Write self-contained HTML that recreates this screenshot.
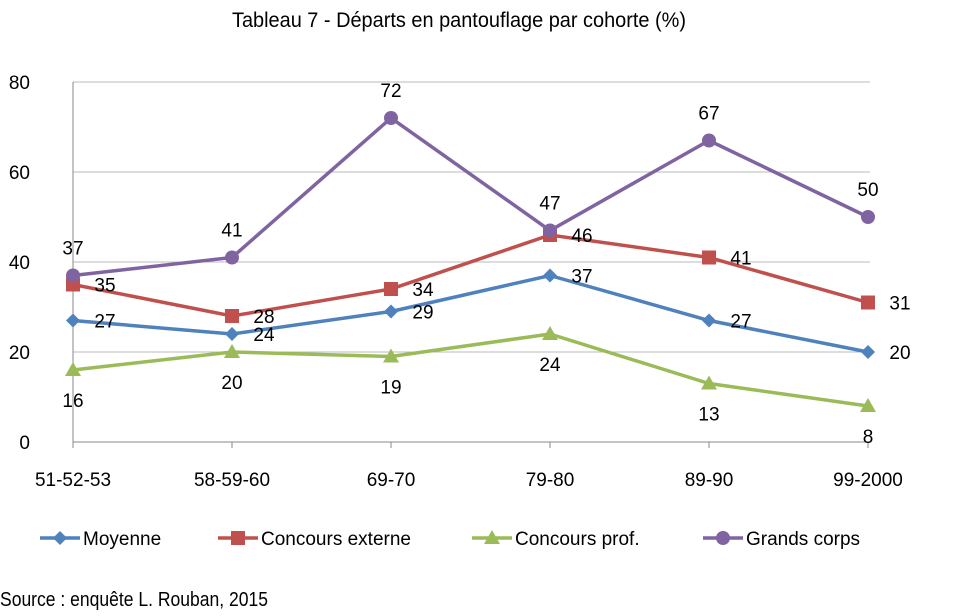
<!DOCTYPE html>
<html><head><meta charset="utf-8">
<style>
body{margin:0;background:#fff;}
svg{display:block;font-family:"Liberation Sans Narrow","Liberation Sans",sans-serif;}
</style></head>
<body>
<svg id="chart" width="966" height="616" viewBox="0 0 966 616" xmlns="http://www.w3.org/2000/svg">
<text x="232" y="27" font-size="21" textLength="454" lengthAdjust="spacingAndGlyphs" fill="#000">Tableau 7 - Départs en pantouflage par cohorte (%)</text>
<g id="grid"></g><g id="axes"></g><g id="series"></g><g id="labels"></g>
<g id="legend"></g>
<text x="0" y="606" font-size="20" textLength="268" lengthAdjust="spacingAndGlyphs" fill="#000">Source : enquête L. Rouban, 2015</text>
</svg>
<script>
const categories=["51-52-53","58-59-60","69-70","79-80","89-90","99-2000"];
const moyenne=[27,24,29,37,27,20];
const externe=[35,28,34,46,41,31];
const prof=[16,20,19,24,13,8];
const grands=[37,41,72,47,67,50];
const yTicks=[0,20,40,60,80];
const NS="http://www.w3.org/2000/svg";
const x0=73,dx=159,yBase=442,ppu=4.5;
const X=i=>x0+i*dx, Y=v=>yBase-v*ppu;
function mk(tag,attrs,parent,text){const e=document.createElementNS(NS,tag);for(const k in attrs)e.setAttribute(k,attrs[k]);if(text!==undefined)e.textContent=text;document.getElementById(parent).appendChild(e);return e;}
yTicks.forEach(t=>{
 const g=mk('line',{x1:x0,x2:870,y1:Y(t),y2:Y(t),stroke:t===0?'#888':'#bbb','stroke-width':1},'grid');
 
 
 const l=mk('text',{x:30,y:Y(t)+7,'font-size':19,'text-anchor':'end'},'axes',String(t));
 
 
});
const ax=mk('line',{x1:x0,x2:x0,y1:Y(80),y2:yBase+6,stroke:'#888'},'axes');


categories.forEach((c,i)=>{
 const tk=mk('line',{x1:X(i),x2:X(i),y1:yBase,y2:yBase+6,stroke:'#888'},'axes');
 
 
 const l=mk('text',{x:X(i),y:486,'font-size':19,'text-anchor':'middle'},'axes',c);
 
 
});
function marker(shape,cx,cy,color,parent){
 let e;
 if(shape==='diamond')e=mk('polygon',{points:`${cx},${cy-7} ${cx+7},${cy} ${cx},${cy+7} ${cx-7},${cy}`,fill:color},parent);
 else if(shape==='square')e=mk('rect',{x:cx-7,y:cy-7,width:14,height:14,fill:color},parent);
 else if(shape==='triangle')e=mk('polygon',{points:`${cx},${cy-8} ${cx+8},${cy+6} ${cx-8},${cy+6}`,fill:color},parent);
 else e=mk('circle',{cx:cx,cy:cy,r:7,fill:color},parent);
 return e;
}
const series=[
 {name:'moyenne',label:'Moyenne',data:moyenne,color:'#4f81bd',shape:'diamond',ox:32,oy:7},
 {name:'concours-externe',label:'Concours externe',data:externe,color:'#c0504d',shape:'square',ox:32,oy:7},
 {name:'concours-prof',label:'Concours prof.',data:prof,color:'#9bbb59',shape:'triangle',ox:0,oy:37},
 {name:'grands-corps',label:'Grands corps',data:grands,color:'#8064a2',shape:'circle',ox:0,oy:-21}
];
series.forEach(s=>{
 const p=mk('polyline',{points:s.data.map((v,i)=>X(i)+','+Y(v)).join(' '),fill:'none',stroke:s.color,'stroke-width':3.5},'series');
 
 
 s.data.forEach((v,i)=>{
  const m=marker(s.shape,X(i),Y(v),s.color,'series');
  
  
  const t=mk('text',{x:X(i)+s.ox,y:Y(v)+s.oy,'font-size':19,'text-anchor':'middle'},'labels',String(v));
  
  
 });
});
const legX=[40,218,472,703];
series.forEach((s,i)=>{
 const ln=mk('line',{x1:legX[i],x2:legX[i]+40,y1:538,y2:538,stroke:s.color,'stroke-width':3.5},'legend');
 
 
 const m=marker(s.shape,legX[i]+20,538,s.color,'legend');
 
 
 const t=mk('text',{x:legX[i]+43,y:545,'font-size':19},'legend',s.label);
 
 
});
</script>
</body></html>
